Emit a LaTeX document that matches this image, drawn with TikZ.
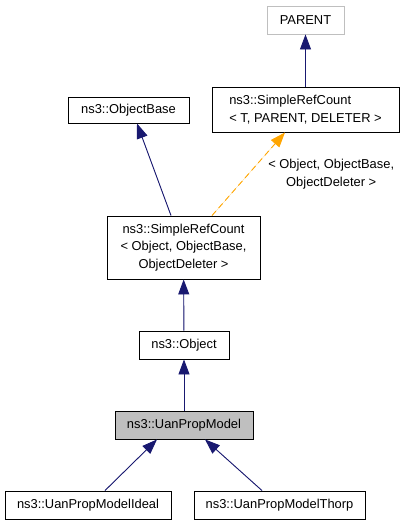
\documentclass[tikz,border=0pt]{standalone}
\usepackage{fontspec}
\setmainfont{Liberation Sans}
\usetikzlibrary{arrows.meta}

\begin{document}
\begin{tikzpicture}[x=1pt,y=-1pt,
  font=\fontsize{12.9}{17.6}\selectfont,
  cls/.style={draw,line width=0.9pt,inner sep=0pt,align=center},
  inh/.style={draw={rgb,255:red,25;green,25;blue,112},line width=0.9pt,
    -{Triangle[width=11pt,length=15pt]},fill={rgb,255:red,25;green,25;blue,112}},
  tmpl/.style={draw={rgb,255:red,255;green,165;blue,0},line width=0.9pt,dash pattern=on 6pt off 4pt,
    -{Triangle[width=11pt,length=15pt]},fill={rgb,255:red,255;green,165;blue,0}}]
  \useasboundingbox (0,0) rectangle (404,525);
  \node[cls,draw={rgb,255:red,191;green,191;blue,191},minimum width=77pt,minimum height=28pt] (par) at (305.5,20) {PARENT};
  \node[cls,align=left,minimum width=187pt,minimum height=45pt] (srct) at (305.5,109.5) {ns3::SimpleRefCount\\< T, PARENT, DELETER >};
  \node[cls,minimum width=121pt,minimum height=26pt] (ob) at (128.5,110) {ns3::ObjectBase};
  \node[cls,minimum width=153pt,minimum height=63pt] (srco) at (183.5,247.5) {ns3::SimpleRefCount\\< Object, ObjectBase,\\ObjectDeleter >};
  \node[cls,minimum width=90pt,minimum height=28pt] (obj) at (184,345) {ns3::Object};
  \node[cls,fill={rgb,255:red,191;green,191;blue,191},minimum width=138pt,minimum height=28pt] (upm) at (184,425) {ns3::UanPropModel};
  \node[cls,minimum width=166pt,minimum height=28pt] (ideal) at (88,505) {ns3::UanPropModelIdeal};
  \node[cls,minimum width=171pt,minimum height=28pt] (thorp) at (279.5,505) {ns3::UanPropModelThorp};
  \path
    (srct) edge[inh] (par)
    ([xshift=-12.5pt]srco.north) edge[inh] ([xshift=8.5pt]ob.south)
    ([xshift=28.5pt]srco.north) edge[tmpl] node[pos=0.5,right=16pt,align=center] {< Object, ObjectBase,\\ObjectDeleter >} ([xshift=-20.5pt]srct.south)
    (obj) edge[inh] (srco)
    (upm) edge[inh] (obj)
    ([xshift=17pt]ideal.north) edge[inh] ([xshift=-27pt]upm.south)
    ([xshift=-17.5pt]thorp.north) edge[inh] ([xshift=21pt]upm.south);
\end{tikzpicture}
\end{document}
